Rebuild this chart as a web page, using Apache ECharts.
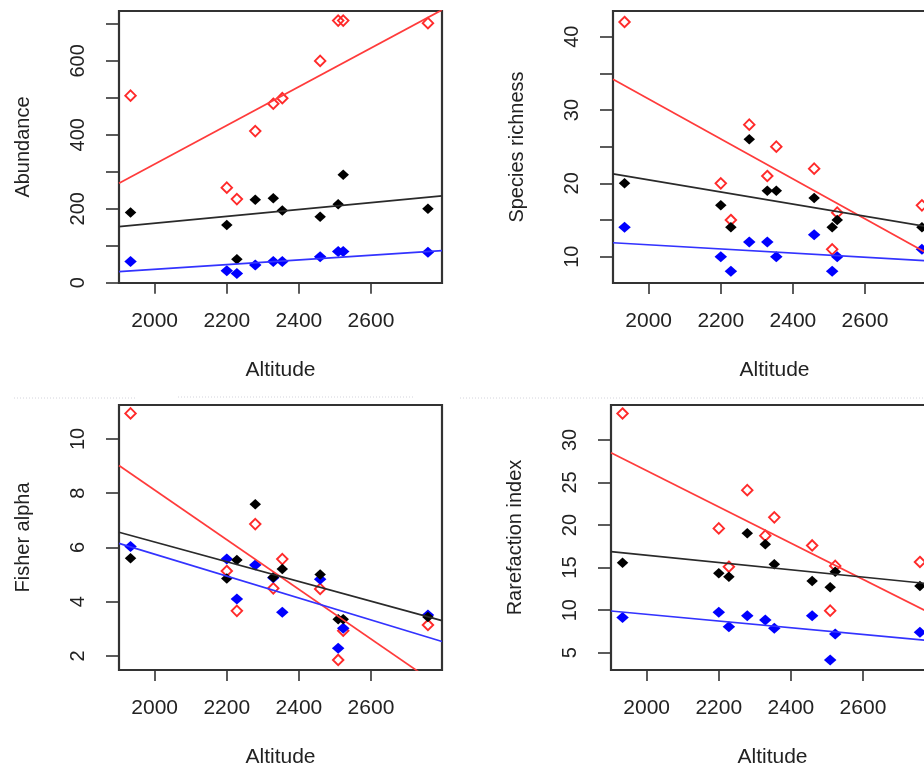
<!DOCTYPE html>
<html>
<head>
<meta charset="utf-8">
<script src="https://cdn.jsdelivr.net/npm/echarts@6/dist/echarts.min.js"></script>
<style>
html,body{margin:0;padding:0;background:#fff;}
#c{width:924px;height:766px;}
</style>
</head>
<body>
<div id="c"></div>
<script>
// ---------------- data ----------------
const altitude = [1933, 2200, 2228, 2279, 2329, 2354, 2459, 2509, 2523, 2758];

const abundanceBlack = [190, 156, 63, 224, 228, 195, 178, 212, 292, 200];
const abundanceRed   = [506, 257, 226, 410, 484, 499, 600, 709, 709, 702];
const abundanceBlue  = [57, 32, 25, 48, 57, 57, 70, 84, 84, 82];

const richnessBlack = [20, 17, 14, 26, 19, 19, 18, 14, 15, 14];
const richnessRed   = [42, 20, 15, 28, 21, 25, 22, 11, 16, 17];
const richnessBlue  = [14, 10, 8, 12, 12, 10, 13, 8, 10, 11];

const fisherBlack = [5.6, 4.85, 5.54, 7.59, 4.9, 5.2, 5.0, 3.35, 3.35, 3.43];
const fisherRed   = [10.94, 5.13, 3.66, 6.86, 4.49, 5.57, 4.47, 1.85, 2.93, 3.14];
const fisherBlue  = [6.03, 5.57, 4.1, 5.35, 4.88, 3.61, 4.83, 2.28, 3.02, 3.51];

const rarefactionBlack = [15.58, 14.33, 13.93, 19.03, 17.73, 15.38, 13.42, 12.68, 14.52, 12.84];
const rarefactionRed   = [33.1, 19.6, 15.1, 24.1, 18.75, 20.9, 17.6, 9.94, 15.2, 15.66];
const rarefactionBlue  = [9.15, 9.74, 8.06, 9.35, 8.84, 7.86, 9.35, 4.14, 7.19, 7.39];

// regression lines: values at the two ends of the altitude axis
const fitX = [1901, 2797];
const abundanceFitRed = [269, 738];
const abundanceFitBlack = [151.6, 234.6];
const abundanceFitBlue = [29.8, 86.6];
const richnessFitRed = [34.2, 9.8];
const richnessFitBlack = [21.3, 13.9];
const richnessFitBlue = [11.9, 9.36];
const fisherFitRed = [9.02, 0.82];
const fisherFitBlack = [6.56, 3.30];
const fisherFitBlue = [6.15, 2.53];
const rarefactionFitRed = [28.5, 9.43];
const rarefactionFitBlack = [16.87, 13.04];
const rarefactionFitBlue = [9.9, 6.38];

// tick marks / labels
const xTicks = [2000, 2200, 2400, 2600];
const abundanceTicks = [0, 100, 200, 300, 400, 500, 600, 700];
const abundanceLabels = [0, 200, 400, 600];
const richnessTicks = [10, 15, 20, 25, 30, 35, 40];
const richnessLabels = [10, 20, 30, 40];
const fisherTicks = [2, 4, 6, 8, 10];
const fisherLabels = [2, 4, 6, 8, 10];
const rarefactionTicks = [5, 10, 15, 20, 25, 30];
const rarefactionLabels = [5, 10, 15, 20, 25, 30];

const yTitles = ['Abundance', 'Species richness', 'Fisher alpha', 'Rarefaction index'];
const xTitle = 'Altitude';

// ---------------- layout / style ----------------
const FONT = "'Liberation Sans', Arial, sans-serif";
const TEXT = '#222222';
const FRAME = '#333333';
const RED = '#ff2a2a', BLUE = '#0000ff', BLACK = '#000000';
const RED_LINE = '#ff3b3b', BLUE_LINE = '#3333ff', BLACK_LINE = '#2a2a2a';

const panels = [
  {grid:{left:119, top:11, width:323, height:272}, yMin:-1, yMax:735,
   ticks:abundanceTicks, labels:abundanceLabels,
   black:abundanceBlack, red:abundanceRed, blue:abundanceBlue,
   fitR:abundanceFitRed, fitK:abundanceFitBlack, fitB:abundanceFitBlue},
  {grid:{left:613, top:11, width:323, height:272}, yMin:6.41, yMax:43.5,
   ticks:richnessTicks, labels:richnessLabels,
   black:richnessBlack, red:richnessRed, blue:richnessBlue,
   fitR:richnessFitRed, fitK:richnessFitBlack, fitB:richnessFitBlue},
  {grid:{left:119, top:405, width:323, height:265}, yMin:1.48, yMax:11.25,
   ticks:fisherTicks, labels:fisherLabels,
   black:fisherBlack, red:fisherRed, blue:fisherBlue,
   fitR:fisherFitRed, fitK:fisherFitBlack, fitB:fisherFitBlue},
  {grid:{left:611, top:405, width:323, height:265}, yMin:2.97, yMax:34.1,
   ticks:rarefactionTicks, labels:rarefactionLabels,
   black:rarefactionBlack, red:rarefactionRed, blue:rarefactionBlue,
   fitR:rarefactionFitRed, fitK:rarefactionFitBlack, fitB:rarefactionFitBlue}
];

const pairs = (ys) => altitude.map((x, i) => [x, ys[i]]);
const fitPairs = (ys) => fitX.map((x, i) => [x, ys[i]]);
const plain = (v) => String(v);

const grids = [], xAxes = [], yAxes = [], series = [];
panels.forEach((p, i) => {
  grids.push(Object.assign({show:true, borderColor:FRAME, borderWidth:2.2,
    backgroundColor:'transparent', containLabel:false, outerBoundsMode:'none'}, p.grid));
  xAxes.push({
    type:'value', gridIndex:i, min:1901, max:2797,
    axisLine:{show:false},
    axisTick:{show:true, length:11, customValues:xTicks, lineStyle:{color:FRAME, width:1.6}},
    axisLabel:{customValues:xTicks, formatter:plain, margin:28, fontSize:21, color:TEXT, fontFamily:FONT},
    splitLine:{show:false},
    name:xTitle, nameLocation:'middle', nameGap:77, nameMoveOverlap:false,
    nameTextStyle:{fontSize:21, color:TEXT, fontFamily:FONT}
  });
  yAxes.push({
    type:'value', gridIndex:i, min:p.yMin, max:p.yMax,
    axisLine:{show:false},
    axisTick:{show:true, length:13, customValues:p.ticks, lineStyle:{color:FRAME, width:1.6}},
    axisLabel:{customValues:p.labels, formatter:plain, rotate:90, margin:31, fontSize:20, color:TEXT, fontFamily:FONT},
    splitLine:{show:false},
    name:yTitles[i], nameLocation:'middle', nameGap:86, nameMoveOverlap:false,
    nameTextStyle:{fontSize:20, color:TEXT, fontFamily:FONT}
  });
  const common = {type:'scatter', xAxisIndex:i, yAxisIndex:i, silent:true, symbol:'diamond'};
  series.push(Object.assign({}, common, {data:pairs(p.red), symbolSize:[10.5, 10.5],
    itemStyle:{color:'rgba(0,0,0,0)', borderColor:RED, borderWidth:1.9, opacity:1}}));
  series.push(Object.assign({}, common, {data:pairs(p.blue), symbolSize:[12.5, 11],
    itemStyle:{color:BLUE, opacity:1}}));
  series.push(Object.assign({}, common, {data:pairs(p.black), symbolSize:[11.5, 10.5],
    itemStyle:{color:BLACK, opacity:1}}));
  const lc = {type:'line', xAxisIndex:i, yAxisIndex:i, silent:true, symbol:'none', clip:true, z:3};
  series.push(Object.assign({}, lc, {data:fitPairs(p.fitR), lineStyle:{color:RED_LINE, width:1.7}}));
  series.push(Object.assign({}, lc, {data:fitPairs(p.fitK), lineStyle:{color:BLACK_LINE, width:1.7}}));
  series.push(Object.assign({}, lc, {data:fitPairs(p.fitB), lineStyle:{color:BLUE_LINE, width:1.7}}));
});

const dotted = {stroke:'#d4d4dc', lineWidth:1, lineDash:[1, 2]};
const option = {
  backgroundColor:'#ffffff',
  animation:false,
  grid:grids, xAxis:xAxes, yAxis:yAxes, series:series,
  graphic:[
    {type:'line', shape:{x1:14, y1:398, x2:137, y2:398}, style:dotted, silent:true},
    {type:'line', shape:{x1:178, y1:397, x2:413, y2:397}, style:dotted, silent:true},
    {type:'line', shape:{x1:460, y1:398, x2:924, y2:398}, style:dotted, silent:true}
  ]
};
const chart = echarts.init(document.getElementById('c'), null, {renderer:'canvas'});
chart.setOption(option);
</script>
</body>
</html>
